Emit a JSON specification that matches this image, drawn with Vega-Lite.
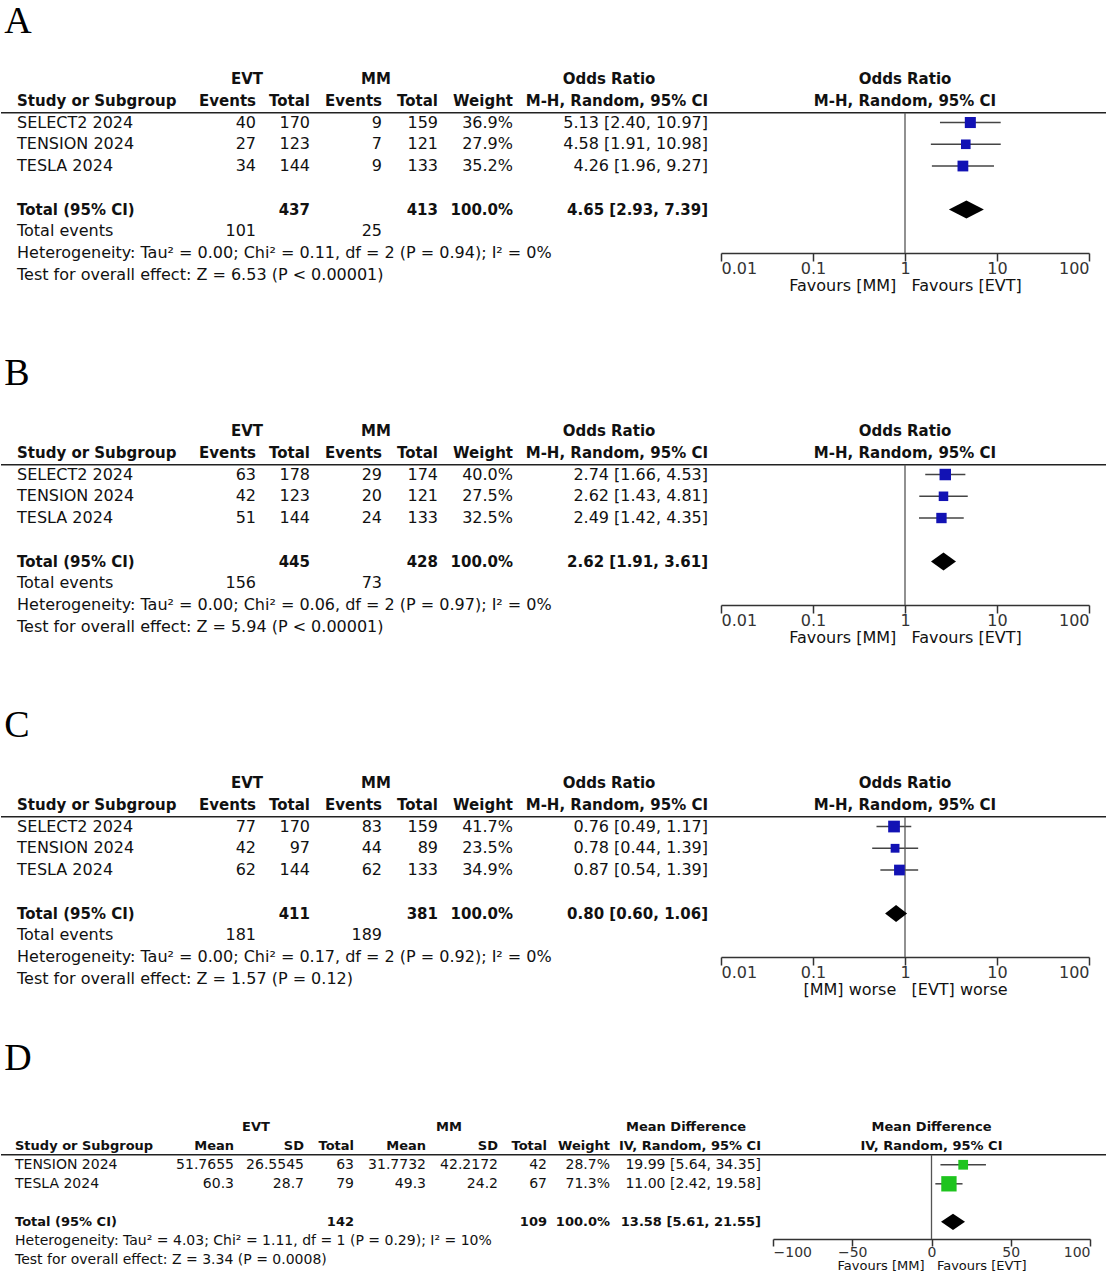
{
  "$schema": "https://vega.github.io/schema/vega-lite/v6.json",
  "padding": {"left": 0, "top": 3, "right": 0, "bottom": 0},
  "background": "white",
  "config": {
    "view": {"stroke": null},
    "text": {"font": "DejaVu Sans", "fontSize": 16, "color": "#111", "baseline": "middle"},
    "axis": {"grid": false, "domainColor": "#333", "tickColor": "#333", "labelColor": "#333", "titleColor": "#111", "labelFont": "DejaVu Sans", "titleFont": "DejaVu Sans", "titleFontWeight": "normal"}
  },
  "spacing": 42,
  "vconcat": [
    {
      "spacing": 62,
      "vconcat": [
        {
          "title": {"text": "A", "offset": 25, "dx": 4, "font": "Liberation Serif", "fontSize": 38, "fontWeight": "normal", "color": "#000", "anchor": "start"},
          "spacing": 0,
          "bounds": "flush",
          "hconcat": [
            {
              "width": 715, "height": 187,
              "data": {"values": [
                {"row": 0, "col": 7, "text": "EVT", "kind": "head"},
                {"row": 0, "col": 8, "text": "MM", "kind": "head"},
                {"row": 0, "col": 9, "text": "Odds Ratio", "kind": "head"},
                {"row": 1, "col": 0, "text": "Study or Subgroup", "kind": "head"},
                {"row": 1, "col": 1, "text": "Events", "kind": "head"},
                {"row": 1, "col": 2, "text": "Total", "kind": "head"},
                {"row": 1, "col": 3, "text": "Events", "kind": "head"},
                {"row": 1, "col": 4, "text": "Total", "kind": "head"},
                {"row": 1, "col": 5, "text": "Weight", "kind": "head"},
                {"row": 1, "col": 6, "text": "M-H, Random, 95% CI", "kind": "head"},
                {"row": 2, "col": 0, "text": "SELECT2 2024", "kind": "study"},
                {"row": 2, "col": 1, "text": "40", "kind": "study"},
                {"row": 2, "col": 2, "text": "170", "kind": "study"},
                {"row": 2, "col": 3, "text": "9", "kind": "study"},
                {"row": 2, "col": 4, "text": "159", "kind": "study"},
                {"row": 2, "col": 5, "text": "36.9%", "kind": "study"},
                {"row": 2, "col": 6, "text": "5.13 [2.40, 10.97]", "kind": "study"},
                {"row": 3, "col": 0, "text": "TENSION 2024", "kind": "study"},
                {"row": 3, "col": 1, "text": "27", "kind": "study"},
                {"row": 3, "col": 2, "text": "123", "kind": "study"},
                {"row": 3, "col": 3, "text": "7", "kind": "study"},
                {"row": 3, "col": 4, "text": "121", "kind": "study"},
                {"row": 3, "col": 5, "text": "27.9%", "kind": "study"},
                {"row": 3, "col": 6, "text": "4.58 [1.91, 10.98]", "kind": "study"},
                {"row": 4, "col": 0, "text": "TESLA 2024", "kind": "study"},
                {"row": 4, "col": 1, "text": "34", "kind": "study"},
                {"row": 4, "col": 2, "text": "144", "kind": "study"},
                {"row": 4, "col": 3, "text": "9", "kind": "study"},
                {"row": 4, "col": 4, "text": "133", "kind": "study"},
                {"row": 4, "col": 5, "text": "35.2%", "kind": "study"},
                {"row": 4, "col": 6, "text": "4.26 [1.96, 9.27]", "kind": "study"},
                {"row": 6, "col": 0, "text": "Total (95% CI)", "kind": "total"},
                {"row": 6, "col": 2, "text": "437", "kind": "total"},
                {"row": 6, "col": 4, "text": "413", "kind": "total"},
                {"row": 6, "col": 5, "text": "100.0%", "kind": "total"},
                {"row": 6, "col": 6, "text": "4.65 [2.93, 7.39]", "kind": "total"},
                {"row": 7, "col": 0, "text": "Total events", "kind": "note"},
                {"row": 7, "col": 1, "text": "101", "kind": "note"},
                {"row": 7, "col": 3, "text": "25", "kind": "note"},
                {"row": 8, "col": 0, "text": "Heterogeneity: Tau² = 0.00; Chi² = 0.11, df = 2 (P = 0.94); I² = 0%", "kind": "note"},
                {"row": 9, "col": 0, "text": "Test for overall effect: Z = 6.53 (P < 0.00001)", "kind": "note"}
              ]},
              "layer": [
                {"transform": [{"filter": "datum.col === 0 && datum.kind !== 'head' && datum.kind !== 'total'"}], "mark": {"type": "text", "align": "left"},
                 "encoding": {"x": {"field": "col", "type": "quantitative", "axis": null, "scale": {"domain": [0,1,2,3,4,5,6,7,8,9], "range": [16,255,309,381,437,512,707,246,375,608], "nice": false, "zero": false}},
                              "y": {"field": "row", "type": "quantitative", "axis": null, "scale": {"domain": [-0.6, 8], "reverse": true, "nice": false, "zero": false}},
                              "text": {"field": "text", "type": "nominal"}}},
                {"transform": [{"filter": "datum.col === 0 && (datum.kind === 'head' || datum.kind === 'total')"}], "mark": {"type": "text", "align": "left", "fontWeight": "bold", "fontSize": 15},
                 "encoding": {"x": {"field": "col", "type": "quantitative", "axis": null}, "y": {"field": "row", "type": "quantitative", "axis": null}, "text": {"field": "text", "type": "nominal"}}},
                {"transform": [{"filter": "datum.col >= 1 && datum.col <= 6 && datum.kind !== 'head' && datum.kind !== 'total'"}], "mark": {"type": "text", "align": "right"},
                 "encoding": {"x": {"field": "col", "type": "quantitative", "axis": null}, "y": {"field": "row", "type": "quantitative", "axis": null}, "text": {"field": "text", "type": "nominal"}}},
                {"transform": [{"filter": "datum.col >= 1 && datum.col <= 6 && (datum.kind === 'head' || datum.kind === 'total')"}], "mark": {"type": "text", "align": "right", "fontWeight": "bold", "fontSize": 15},
                 "encoding": {"x": {"field": "col", "type": "quantitative", "axis": null}, "y": {"field": "row", "type": "quantitative", "axis": null}, "text": {"field": "text", "type": "nominal"}}},
                {"transform": [{"filter": "datum.col >= 7"}], "mark": {"type": "text", "align": "center", "fontWeight": "bold", "fontSize": 15},
                 "encoding": {"x": {"field": "col", "type": "quantitative", "axis": null}, "y": {"field": "row", "type": "quantitative", "axis": null}, "text": {"field": "text", "type": "nominal"}}},
                {"transform": [{"filter": "datum.kind === 'head' && datum.col === 0"}], "mark": {"type": "rule", "color": "#222", "strokeWidth": 1.5, "yOffset": 12},
                 "encoding": {"y": {"field": "row", "type": "quantitative", "axis": null}}}
              ]
            },
            {
              "width": 390, "height": 187,
              "data": {"values": [
                {"row": 0, "kind": "head", "text": "Odds Ratio", "ref": 1},
                {"row": 1, "kind": "head", "text": "M-H, Random, 95% CI", "ref": 1},
                {"row": 2, "kind": "study", "est": 5.13, "lo": 2.40, "hi": 10.97, "weight": 36.9},
                {"row": 3, "kind": "study", "est": 4.58, "lo": 1.91, "hi": 10.98, "weight": 27.9},
                {"row": 4, "kind": "study", "est": 4.26, "lo": 1.96, "hi": 9.27, "weight": 35.2},
                {"row": 6, "kind": "total", "est": 4.65, "lo": 2.93, "hi": 7.39}
              ]},
              "layer": [
                {"transform": [{"filter": "datum.kind === 'study'"}], "mark": {"type": "rule", "color": "#444", "strokeWidth": 1.5},
                 "encoding": {
                   "x": {"field": "lo", "type": "quantitative", "scale": {"type": "log", "domain": [0.01, 100], "range": [5, 373], "nice": false},
                         "axis": {"orient": "bottom", "values": [0.01, 0.1, 1, 10, 100], "format": "~g", "labelFlush": true, "labelPadding": -1, "tickSize": 8, "labelFontSize": 16, "labelOverlap": false, "domainWidth": 1.5, "tickWidth": 1.5, "title": "Favours [MM]\u00a0\u00a0\u00a0Favours [EVT]", "titleFontSize": 16, "titlePadding": 1}},
                   "x2": {"field": "hi"},
                   "y": {"field": "row", "type": "quantitative", "axis": null, "scale": {"domain": [-0.6, 8], "reverse": true, "nice": false, "zero": false}}}},
                {"transform": [{"filter": "datum.kind === 'head' && datum.row === 1"}], "mark": {"type": "rule", "color": "#222", "strokeWidth": 1.5, "yOffset": 12},
                 "encoding": {"y": {"field": "row", "type": "quantitative", "axis": null}}},
                {"transform": [{"filter": "datum.kind === 'head' && datum.row === 1"}], "mark": {"type": "rule", "color": "#555", "strokeWidth": 1.3, "yOffset": 12},
                 "encoding": {"x": {"field": "ref", "type": "quantitative"}, "y": {"field": "row", "type": "quantitative", "axis": null}, "y2": {"value": "height"}}},
                {"transform": [{"filter": "datum.kind === 'study'"}], "mark": {"type": "point", "shape": "square", "filled": true, "opacity": 1, "color": "#1212b4"},
                 "encoding": {
                   "x": {"field": "est", "type": "quantitative"},
                   "y": {"field": "row", "type": "quantitative", "axis": null},
                   "size": {"field": "weight", "type": "quantitative", "scale": {"domain": [0, 100], "range": [0, 330]}, "legend": null}}},
                {"transform": [{"filter": "datum.kind === 'total'"}], "mark": {"type": "point", "shape": "M-1,0L0,-0.51L1,0L0,0.51Z", "filled": true, "opacity": 1, "color": "#000", "size": 1225},
                 "encoding": {"x": {"field": "est", "type": "quantitative"}, "y": {"field": "row", "type": "quantitative", "axis": null}}},
                {"transform": [{"filter": "datum.kind === 'head'"}], "mark": {"type": "text", "align": "center", "fontWeight": "bold", "fontSize": 15},
                 "encoding": {"x": {"field": "ref", "type": "quantitative"}, "y": {"field": "row", "type": "quantitative", "axis": null}, "text": {"field": "text", "type": "nominal"}}}
              ]
            }
          ]
        },
        {
          "title": {"text": "B", "offset": 25, "dx": 4, "font": "Liberation Serif", "fontSize": 38, "fontWeight": "normal", "color": "#000", "anchor": "start"},
          "spacing": 0,
          "bounds": "flush",
          "hconcat": [
            {
              "width": 715, "height": 187,
              "data": {"values": [
                {"row": 0, "col": 7, "text": "EVT", "kind": "head"},
                {"row": 0, "col": 8, "text": "MM", "kind": "head"},
                {"row": 0, "col": 9, "text": "Odds Ratio", "kind": "head"},
                {"row": 1, "col": 0, "text": "Study or Subgroup", "kind": "head"},
                {"row": 1, "col": 1, "text": "Events", "kind": "head"},
                {"row": 1, "col": 2, "text": "Total", "kind": "head"},
                {"row": 1, "col": 3, "text": "Events", "kind": "head"},
                {"row": 1, "col": 4, "text": "Total", "kind": "head"},
                {"row": 1, "col": 5, "text": "Weight", "kind": "head"},
                {"row": 1, "col": 6, "text": "M-H, Random, 95% CI", "kind": "head"},
                {"row": 2, "col": 0, "text": "SELECT2 2024", "kind": "study"},
                {"row": 2, "col": 1, "text": "63", "kind": "study"},
                {"row": 2, "col": 2, "text": "178", "kind": "study"},
                {"row": 2, "col": 3, "text": "29", "kind": "study"},
                {"row": 2, "col": 4, "text": "174", "kind": "study"},
                {"row": 2, "col": 5, "text": "40.0%", "kind": "study"},
                {"row": 2, "col": 6, "text": "2.74 [1.66, 4.53]", "kind": "study"},
                {"row": 3, "col": 0, "text": "TENSION 2024", "kind": "study"},
                {"row": 3, "col": 1, "text": "42", "kind": "study"},
                {"row": 3, "col": 2, "text": "123", "kind": "study"},
                {"row": 3, "col": 3, "text": "20", "kind": "study"},
                {"row": 3, "col": 4, "text": "121", "kind": "study"},
                {"row": 3, "col": 5, "text": "27.5%", "kind": "study"},
                {"row": 3, "col": 6, "text": "2.62 [1.43, 4.81]", "kind": "study"},
                {"row": 4, "col": 0, "text": "TESLA 2024", "kind": "study"},
                {"row": 4, "col": 1, "text": "51", "kind": "study"},
                {"row": 4, "col": 2, "text": "144", "kind": "study"},
                {"row": 4, "col": 3, "text": "24", "kind": "study"},
                {"row": 4, "col": 4, "text": "133", "kind": "study"},
                {"row": 4, "col": 5, "text": "32.5%", "kind": "study"},
                {"row": 4, "col": 6, "text": "2.49 [1.42, 4.35]", "kind": "study"},
                {"row": 6, "col": 0, "text": "Total (95% CI)", "kind": "total"},
                {"row": 6, "col": 2, "text": "445", "kind": "total"},
                {"row": 6, "col": 4, "text": "428", "kind": "total"},
                {"row": 6, "col": 5, "text": "100.0%", "kind": "total"},
                {"row": 6, "col": 6, "text": "2.62 [1.91, 3.61]", "kind": "total"},
                {"row": 7, "col": 0, "text": "Total events", "kind": "note"},
                {"row": 7, "col": 1, "text": "156", "kind": "note"},
                {"row": 7, "col": 3, "text": "73", "kind": "note"},
                {"row": 8, "col": 0, "text": "Heterogeneity: Tau² = 0.00; Chi² = 0.06, df = 2 (P = 0.97); I² = 0%", "kind": "note"},
                {"row": 9, "col": 0, "text": "Test for overall effect: Z = 5.94 (P < 0.00001)", "kind": "note"}
              ]},
              "layer": [
                {"transform": [{"filter": "datum.col === 0 && datum.kind !== 'head' && datum.kind !== 'total'"}], "mark": {"type": "text", "align": "left"},
                 "encoding": {"x": {"field": "col", "type": "quantitative", "axis": null, "scale": {"domain": [0,1,2,3,4,5,6,7,8,9], "range": [16,255,309,381,437,512,707,246,375,608], "nice": false, "zero": false}},
                              "y": {"field": "row", "type": "quantitative", "axis": null, "scale": {"domain": [-0.6, 8], "reverse": true, "nice": false, "zero": false}},
                              "text": {"field": "text", "type": "nominal"}}},
                {"transform": [{"filter": "datum.col === 0 && (datum.kind === 'head' || datum.kind === 'total')"}], "mark": {"type": "text", "align": "left", "fontWeight": "bold", "fontSize": 15},
                 "encoding": {"x": {"field": "col", "type": "quantitative", "axis": null}, "y": {"field": "row", "type": "quantitative", "axis": null}, "text": {"field": "text", "type": "nominal"}}},
                {"transform": [{"filter": "datum.col >= 1 && datum.col <= 6 && datum.kind !== 'head' && datum.kind !== 'total'"}], "mark": {"type": "text", "align": "right"},
                 "encoding": {"x": {"field": "col", "type": "quantitative", "axis": null}, "y": {"field": "row", "type": "quantitative", "axis": null}, "text": {"field": "text", "type": "nominal"}}},
                {"transform": [{"filter": "datum.col >= 1 && datum.col <= 6 && (datum.kind === 'head' || datum.kind === 'total')"}], "mark": {"type": "text", "align": "right", "fontWeight": "bold", "fontSize": 15},
                 "encoding": {"x": {"field": "col", "type": "quantitative", "axis": null}, "y": {"field": "row", "type": "quantitative", "axis": null}, "text": {"field": "text", "type": "nominal"}}},
                {"transform": [{"filter": "datum.col >= 7"}], "mark": {"type": "text", "align": "center", "fontWeight": "bold", "fontSize": 15},
                 "encoding": {"x": {"field": "col", "type": "quantitative", "axis": null}, "y": {"field": "row", "type": "quantitative", "axis": null}, "text": {"field": "text", "type": "nominal"}}},
                {"transform": [{"filter": "datum.kind === 'head' && datum.col === 0"}], "mark": {"type": "rule", "color": "#222", "strokeWidth": 1.5, "yOffset": 12},
                 "encoding": {"y": {"field": "row", "type": "quantitative", "axis": null}}}
              ]
            },
            {
              "width": 390, "height": 187,
              "data": {"values": [
                {"row": 0, "kind": "head", "text": "Odds Ratio", "ref": 1},
                {"row": 1, "kind": "head", "text": "M-H, Random, 95% CI", "ref": 1},
                {"row": 2, "kind": "study", "est": 2.74, "lo": 1.66, "hi": 4.53, "weight": 40.0},
                {"row": 3, "kind": "study", "est": 2.62, "lo": 1.43, "hi": 4.81, "weight": 27.5},
                {"row": 4, "kind": "study", "est": 2.49, "lo": 1.42, "hi": 4.35, "weight": 32.5},
                {"row": 6, "kind": "total", "est": 2.62, "lo": 1.91, "hi": 3.61}
              ]},
              "layer": [
                {"transform": [{"filter": "datum.kind === 'study'"}], "mark": {"type": "rule", "color": "#444", "strokeWidth": 1.5},
                 "encoding": {
                   "x": {"field": "lo", "type": "quantitative", "scale": {"type": "log", "domain": [0.01, 100], "range": [5, 373], "nice": false},
                         "axis": {"orient": "bottom", "values": [0.01, 0.1, 1, 10, 100], "format": "~g", "labelFlush": true, "labelPadding": -1, "tickSize": 8, "labelFontSize": 16, "labelOverlap": false, "domainWidth": 1.5, "tickWidth": 1.5, "title": "Favours [MM]\u00a0\u00a0\u00a0Favours [EVT]", "titleFontSize": 16, "titlePadding": 1}},
                   "x2": {"field": "hi"},
                   "y": {"field": "row", "type": "quantitative", "axis": null, "scale": {"domain": [-0.6, 8], "reverse": true, "nice": false, "zero": false}}}},
                {"transform": [{"filter": "datum.kind === 'head' && datum.row === 1"}], "mark": {"type": "rule", "color": "#222", "strokeWidth": 1.5, "yOffset": 12},
                 "encoding": {"y": {"field": "row", "type": "quantitative", "axis": null}}},
                {"transform": [{"filter": "datum.kind === 'head' && datum.row === 1"}], "mark": {"type": "rule", "color": "#555", "strokeWidth": 1.3, "yOffset": 12},
                 "encoding": {"x": {"field": "ref", "type": "quantitative"}, "y": {"field": "row", "type": "quantitative", "axis": null}, "y2": {"value": "height"}}},
                {"transform": [{"filter": "datum.kind === 'study'"}], "mark": {"type": "point", "shape": "square", "filled": true, "opacity": 1, "color": "#1212b4"},
                 "encoding": {
                   "x": {"field": "est", "type": "quantitative"},
                   "y": {"field": "row", "type": "quantitative", "axis": null},
                   "size": {"field": "weight", "type": "quantitative", "scale": {"domain": [0, 100], "range": [0, 330]}, "legend": null}}},
                {"transform": [{"filter": "datum.kind === 'total'"}], "mark": {"type": "point", "shape": "M-1,0L0,-0.72L1,0L0,0.72Z", "filled": true, "opacity": 1, "color": "#000", "size": 625},
                 "encoding": {"x": {"field": "est", "type": "quantitative"}, "y": {"field": "row", "type": "quantitative", "axis": null}}},
                {"transform": [{"filter": "datum.kind === 'head'"}], "mark": {"type": "text", "align": "center", "fontWeight": "bold", "fontSize": 15},
                 "encoding": {"x": {"field": "ref", "type": "quantitative"}, "y": {"field": "row", "type": "quantitative", "axis": null}, "text": {"field": "text", "type": "nominal"}}}
              ]
            }
          ]
        },
        {
          "title": {"text": "C", "offset": 25, "dx": 4, "font": "Liberation Serif", "fontSize": 38, "fontWeight": "normal", "color": "#000", "anchor": "start"},
          "spacing": 0,
          "bounds": "flush",
          "hconcat": [
            {
              "width": 715, "height": 187,
              "data": {"values": [
                {"row": 0, "col": 7, "text": "EVT", "kind": "head"},
                {"row": 0, "col": 8, "text": "MM", "kind": "head"},
                {"row": 0, "col": 9, "text": "Odds Ratio", "kind": "head"},
                {"row": 1, "col": 0, "text": "Study or Subgroup", "kind": "head"},
                {"row": 1, "col": 1, "text": "Events", "kind": "head"},
                {"row": 1, "col": 2, "text": "Total", "kind": "head"},
                {"row": 1, "col": 3, "text": "Events", "kind": "head"},
                {"row": 1, "col": 4, "text": "Total", "kind": "head"},
                {"row": 1, "col": 5, "text": "Weight", "kind": "head"},
                {"row": 1, "col": 6, "text": "M-H, Random, 95% CI", "kind": "head"},
                {"row": 2, "col": 0, "text": "SELECT2 2024", "kind": "study"},
                {"row": 2, "col": 1, "text": "77", "kind": "study"},
                {"row": 2, "col": 2, "text": "170", "kind": "study"},
                {"row": 2, "col": 3, "text": "83", "kind": "study"},
                {"row": 2, "col": 4, "text": "159", "kind": "study"},
                {"row": 2, "col": 5, "text": "41.7%", "kind": "study"},
                {"row": 2, "col": 6, "text": "0.76 [0.49, 1.17]", "kind": "study"},
                {"row": 3, "col": 0, "text": "TENSION 2024", "kind": "study"},
                {"row": 3, "col": 1, "text": "42", "kind": "study"},
                {"row": 3, "col": 2, "text": "97", "kind": "study"},
                {"row": 3, "col": 3, "text": "44", "kind": "study"},
                {"row": 3, "col": 4, "text": "89", "kind": "study"},
                {"row": 3, "col": 5, "text": "23.5%", "kind": "study"},
                {"row": 3, "col": 6, "text": "0.78 [0.44, 1.39]", "kind": "study"},
                {"row": 4, "col": 0, "text": "TESLA 2024", "kind": "study"},
                {"row": 4, "col": 1, "text": "62", "kind": "study"},
                {"row": 4, "col": 2, "text": "144", "kind": "study"},
                {"row": 4, "col": 3, "text": "62", "kind": "study"},
                {"row": 4, "col": 4, "text": "133", "kind": "study"},
                {"row": 4, "col": 5, "text": "34.9%", "kind": "study"},
                {"row": 4, "col": 6, "text": "0.87 [0.54, 1.39]", "kind": "study"},
                {"row": 6, "col": 0, "text": "Total (95% CI)", "kind": "total"},
                {"row": 6, "col": 2, "text": "411", "kind": "total"},
                {"row": 6, "col": 4, "text": "381", "kind": "total"},
                {"row": 6, "col": 5, "text": "100.0%", "kind": "total"},
                {"row": 6, "col": 6, "text": "0.80 [0.60, 1.06]", "kind": "total"},
                {"row": 7, "col": 0, "text": "Total events", "kind": "note"},
                {"row": 7, "col": 1, "text": "181", "kind": "note"},
                {"row": 7, "col": 3, "text": "189", "kind": "note"},
                {"row": 8, "col": 0, "text": "Heterogeneity: Tau² = 0.00; Chi² = 0.17, df = 2 (P = 0.92); I² = 0%", "kind": "note"},
                {"row": 9, "col": 0, "text": "Test for overall effect: Z = 1.57 (P = 0.12)", "kind": "note"}
              ]},
              "layer": [
                {"transform": [{"filter": "datum.col === 0 && datum.kind !== 'head' && datum.kind !== 'total'"}], "mark": {"type": "text", "align": "left"},
                 "encoding": {"x": {"field": "col", "type": "quantitative", "axis": null, "scale": {"domain": [0,1,2,3,4,5,6,7,8,9], "range": [16,255,309,381,437,512,707,246,375,608], "nice": false, "zero": false}},
                              "y": {"field": "row", "type": "quantitative", "axis": null, "scale": {"domain": [-0.6, 8], "reverse": true, "nice": false, "zero": false}},
                              "text": {"field": "text", "type": "nominal"}}},
                {"transform": [{"filter": "datum.col === 0 && (datum.kind === 'head' || datum.kind === 'total')"}], "mark": {"type": "text", "align": "left", "fontWeight": "bold", "fontSize": 15},
                 "encoding": {"x": {"field": "col", "type": "quantitative", "axis": null}, "y": {"field": "row", "type": "quantitative", "axis": null}, "text": {"field": "text", "type": "nominal"}}},
                {"transform": [{"filter": "datum.col >= 1 && datum.col <= 6 && datum.kind !== 'head' && datum.kind !== 'total'"}], "mark": {"type": "text", "align": "right"},
                 "encoding": {"x": {"field": "col", "type": "quantitative", "axis": null}, "y": {"field": "row", "type": "quantitative", "axis": null}, "text": {"field": "text", "type": "nominal"}}},
                {"transform": [{"filter": "datum.col >= 1 && datum.col <= 6 && (datum.kind === 'head' || datum.kind === 'total')"}], "mark": {"type": "text", "align": "right", "fontWeight": "bold", "fontSize": 15},
                 "encoding": {"x": {"field": "col", "type": "quantitative", "axis": null}, "y": {"field": "row", "type": "quantitative", "axis": null}, "text": {"field": "text", "type": "nominal"}}},
                {"transform": [{"filter": "datum.col >= 7"}], "mark": {"type": "text", "align": "center", "fontWeight": "bold", "fontSize": 15},
                 "encoding": {"x": {"field": "col", "type": "quantitative", "axis": null}, "y": {"field": "row", "type": "quantitative", "axis": null}, "text": {"field": "text", "type": "nominal"}}},
                {"transform": [{"filter": "datum.kind === 'head' && datum.col === 0"}], "mark": {"type": "rule", "color": "#222", "strokeWidth": 1.5, "yOffset": 12},
                 "encoding": {"y": {"field": "row", "type": "quantitative", "axis": null}}}
              ]
            },
            {
              "width": 390, "height": 187,
              "data": {"values": [
                {"row": 0, "kind": "head", "text": "Odds Ratio", "ref": 1},
                {"row": 1, "kind": "head", "text": "M-H, Random, 95% CI", "ref": 1},
                {"row": 2, "kind": "study", "est": 0.76, "lo": 0.49, "hi": 1.17, "weight": 41.7},
                {"row": 3, "kind": "study", "est": 0.78, "lo": 0.44, "hi": 1.39, "weight": 23.5},
                {"row": 4, "kind": "study", "est": 0.87, "lo": 0.54, "hi": 1.39, "weight": 34.9},
                {"row": 6, "kind": "total", "est": 0.80, "lo": 0.60, "hi": 1.06}
              ]},
              "layer": [
                {"transform": [{"filter": "datum.kind === 'study'"}], "mark": {"type": "rule", "color": "#444", "strokeWidth": 1.5},
                 "encoding": {
                   "x": {"field": "lo", "type": "quantitative", "scale": {"type": "log", "domain": [0.01, 100], "range": [5, 373], "nice": false},
                         "axis": {"orient": "bottom", "values": [0.01, 0.1, 1, 10, 100], "format": "~g", "labelFlush": true, "labelPadding": -1, "tickSize": 8, "labelFontSize": 16, "labelOverlap": false, "domainWidth": 1.5, "tickWidth": 1.5, "title": "[MM] worse\u00a0\u00a0\u00a0[EVT] worse", "titleFontSize": 16, "titlePadding": 1}},
                   "x2": {"field": "hi"},
                   "y": {"field": "row", "type": "quantitative", "axis": null, "scale": {"domain": [-0.6, 8], "reverse": true, "nice": false, "zero": false}}}},
                {"transform": [{"filter": "datum.kind === 'head' && datum.row === 1"}], "mark": {"type": "rule", "color": "#222", "strokeWidth": 1.5, "yOffset": 12},
                 "encoding": {"y": {"field": "row", "type": "quantitative", "axis": null}}},
                {"transform": [{"filter": "datum.kind === 'head' && datum.row === 1"}], "mark": {"type": "rule", "color": "#555", "strokeWidth": 1.3, "yOffset": 12},
                 "encoding": {"x": {"field": "ref", "type": "quantitative"}, "y": {"field": "row", "type": "quantitative", "axis": null}, "y2": {"value": "height"}}},
                {"transform": [{"filter": "datum.kind === 'study'"}], "mark": {"type": "point", "shape": "square", "filled": true, "opacity": 1, "color": "#1212b4"},
                 "encoding": {
                   "x": {"field": "est", "type": "quantitative"},
                   "y": {"field": "row", "type": "quantitative", "axis": null},
                   "size": {"field": "weight", "type": "quantitative", "scale": {"domain": [0, 100], "range": [0, 330]}, "legend": null}}},
                {"transform": [{"filter": "datum.kind === 'total'"}], "mark": {"type": "point", "shape": "M-1,0L0,-0.77L1,0L0,0.77Z", "filled": true, "opacity": 1, "color": "#000", "size": 484},
                 "encoding": {"x": {"field": "est", "type": "quantitative"}, "y": {"field": "row", "type": "quantitative", "axis": null}}},
                {"transform": [{"filter": "datum.kind === 'head'"}], "mark": {"type": "text", "align": "center", "fontWeight": "bold", "fontSize": 15},
                 "encoding": {"x": {"field": "ref", "type": "quantitative"}, "y": {"field": "row", "type": "quantitative", "axis": null}, "text": {"field": "text", "type": "nominal"}}}
              ]
            }
          ]
        }
      ]
    },
    {
      "title": {"text": "D", "offset": 43, "dx": 4, "font": "Liberation Serif", "fontSize": 38, "fontWeight": "normal", "color": "#000", "anchor": "start"},
      "spacing": 0,
      "bounds": "flush",
      "hconcat": [
        {
          "width": 765, "height": 118,
          "data": {"values": [
            {"row": 0, "col": 9, "text": "EVT", "kind": "head"},
            {"row": 0, "col": 10, "text": "MM", "kind": "head"},
            {"row": 0, "col": 11, "text": "Mean Difference", "kind": "head"},
            {"row": 1, "col": 0, "text": "Study or Subgroup", "kind": "head"},
            {"row": 1, "col": 1, "text": "Mean", "kind": "head"},
            {"row": 1, "col": 2, "text": "SD", "kind": "head"},
            {"row": 1, "col": 3, "text": "Total", "kind": "head"},
            {"row": 1, "col": 4, "text": "Mean", "kind": "head"},
            {"row": 1, "col": 5, "text": "SD", "kind": "head"},
            {"row": 1, "col": 6, "text": "Total", "kind": "head"},
            {"row": 1, "col": 7, "text": "Weight", "kind": "head"},
            {"row": 1, "col": 8, "text": "IV, Random, 95% CI", "kind": "head"},
            {"row": 2, "col": 0, "text": "TENSION 2024", "kind": "study"},
            {"row": 2, "col": 1, "text": "51.7655", "kind": "study"},
            {"row": 2, "col": 2, "text": "26.5545", "kind": "study"},
            {"row": 2, "col": 3, "text": "63", "kind": "study"},
            {"row": 2, "col": 4, "text": "31.7732", "kind": "study"},
            {"row": 2, "col": 5, "text": "42.2172", "kind": "study"},
            {"row": 2, "col": 6, "text": "42", "kind": "study"},
            {"row": 2, "col": 7, "text": "28.7%", "kind": "study"},
            {"row": 2, "col": 8, "text": "19.99 [5.64, 34.35]", "kind": "study"},
            {"row": 3, "col": 0, "text": "TESLA 2024", "kind": "study"},
            {"row": 3, "col": 1, "text": "60.3", "kind": "study"},
            {"row": 3, "col": 2, "text": "28.7", "kind": "study"},
            {"row": 3, "col": 3, "text": "79", "kind": "study"},
            {"row": 3, "col": 4, "text": "49.3", "kind": "study"},
            {"row": 3, "col": 5, "text": "24.2", "kind": "study"},
            {"row": 3, "col": 6, "text": "67", "kind": "study"},
            {"row": 3, "col": 7, "text": "71.3%", "kind": "study"},
            {"row": 3, "col": 8, "text": "11.00 [2.42, 19.58]", "kind": "study"},
            {"row": 5, "col": 0, "text": "Total (95% CI)", "kind": "total"},
            {"row": 5, "col": 3, "text": "142", "kind": "total"},
            {"row": 5, "col": 6, "text": "109", "kind": "total"},
            {"row": 5, "col": 7, "text": "100.0%", "kind": "total"},
            {"row": 5, "col": 8, "text": "13.58 [5.61, 21.55]", "kind": "total"},
            {"row": 6, "col": 0, "text": "Heterogeneity: Tau² = 4.03; Chi² = 1.11, df = 1 (P = 0.29); I² = 10%", "kind": "note"},
            {"row": 7, "col": 0, "text": "Test for overall effect: Z = 3.34 (P = 0.0008)", "kind": "note"}
          ]},
          "layer": [
            {"transform": [{"filter": "datum.col === 0 && datum.kind !== 'head' && datum.kind !== 'total'"}], "mark": {"type": "text", "align": "left", "fontSize": 14},
             "encoding": {"x": {"field": "col", "type": "quantitative", "axis": null, "scale": {"domain": [0,1,2,3,4,5,6,7,8,9,10,11], "range": [14,233,303,353,425,497,546,609,760,255,448,685], "nice": false, "zero": false}},
                          "y": {"field": "row", "type": "quantitative", "axis": null, "scale": {"domain": [-0.3, 5.9], "reverse": true, "nice": false, "zero": false}},
                          "text": {"field": "text", "type": "nominal"}}},
            {"transform": [{"filter": "datum.col === 0 && (datum.kind === 'head' || datum.kind === 'total')"}], "mark": {"type": "text", "align": "left", "fontWeight": "bold", "fontSize": 13},
             "encoding": {"x": {"field": "col", "type": "quantitative", "axis": null}, "y": {"field": "row", "type": "quantitative", "axis": null}, "text": {"field": "text", "type": "nominal"}}},
            {"transform": [{"filter": "datum.col >= 1 && datum.col <= 8 && datum.kind !== 'head' && datum.kind !== 'total'"}], "mark": {"type": "text", "align": "right", "fontSize": 14},
             "encoding": {"x": {"field": "col", "type": "quantitative", "axis": null}, "y": {"field": "row", "type": "quantitative", "axis": null}, "text": {"field": "text", "type": "nominal"}}},
            {"transform": [{"filter": "datum.col >= 1 && datum.col <= 8 && (datum.kind === 'head' || datum.kind === 'total')"}], "mark": {"type": "text", "align": "right", "fontWeight": "bold", "fontSize": 13},
             "encoding": {"x": {"field": "col", "type": "quantitative", "axis": null}, "y": {"field": "row", "type": "quantitative", "axis": null}, "text": {"field": "text", "type": "nominal"}}},
            {"transform": [{"filter": "datum.col >= 9"}], "mark": {"type": "text", "align": "center", "fontWeight": "bold", "fontSize": 13},
             "encoding": {"x": {"field": "col", "type": "quantitative", "axis": null}, "y": {"field": "row", "type": "quantitative", "axis": null}, "text": {"field": "text", "type": "nominal"}}},
            {"transform": [{"filter": "datum.kind === 'head' && datum.col === 0"}], "mark": {"type": "rule", "color": "#222", "strokeWidth": 1.5, "yOffset": 9},
             "encoding": {"y": {"field": "row", "type": "quantitative", "axis": null}}}
          ]
        },
        {
          "width": 340, "height": 118,
          "data": {"values": [
            {"row": 0, "kind": "head", "text": "Mean Difference", "ref": 0},
            {"row": 1, "kind": "head", "text": "IV, Random, 95% CI", "ref": 0},
            {"row": 2, "kind": "study", "est": 19.99, "lo": 5.64, "hi": 34.35, "weight": 28.7},
            {"row": 3, "kind": "study", "est": 11.00, "lo": 2.42, "hi": 19.58, "weight": 71.3},
            {"row": 5, "kind": "total", "est": 13.58, "lo": 5.61, "hi": 21.55}
          ]},
          "layer": [
            {"transform": [{"filter": "datum.kind === 'study'"}], "mark": {"type": "rule", "color": "#444", "strokeWidth": 1.5},
             "encoding": {
               "x": {"field": "lo", "type": "quantitative", "scale": {"domain": [-100, 100], "range": [7, 324], "nice": false, "zero": false},
                     "axis": {"orient": "bottom", "values": [-100, -50, 0, 50, 100], "format": "d", "labelFlush": true, "labelPadding": -1, "tickSize": 7, "labelFontSize": 14, "labelOverlap": false, "domainWidth": 1.5, "tickWidth": 1.5, "title": "Favours [MM]\u00a0\u00a0\u00a0Favours [EVT]", "titleFontSize": 13, "titlePadding": 0}},
               "x2": {"field": "hi"},
               "y": {"field": "row", "type": "quantitative", "axis": null, "scale": {"domain": [-0.3, 5.9], "reverse": true, "nice": false, "zero": false}}}},
            {"transform": [{"filter": "datum.kind === 'head' && datum.row === 1"}], "mark": {"type": "rule", "color": "#222", "strokeWidth": 1.5, "yOffset": 9},
             "encoding": {"y": {"field": "row", "type": "quantitative", "axis": null}}},
            {"transform": [{"filter": "datum.kind === 'head' && datum.row === 1"}], "mark": {"type": "rule", "color": "#555", "strokeWidth": 1.3, "yOffset": 9},
             "encoding": {"x": {"field": "ref", "type": "quantitative"}, "y": {"field": "row", "type": "quantitative", "axis": null}, "y2": {"value": "height"}}},
            {"transform": [{"filter": "datum.kind === 'study'"}], "mark": {"type": "point", "shape": "square", "filled": true, "opacity": 1, "color": "#1ec41e"},
             "encoding": {
               "x": {"field": "est", "type": "quantitative"},
               "y": {"field": "row", "type": "quantitative", "axis": null},
               "size": {"field": "weight", "type": "quantitative", "scale": {"domain": [0, 100], "range": [0, 340]}, "legend": null}}},
            {"transform": [{"filter": "datum.kind === 'total'"}], "mark": {"type": "point", "shape": "M-1,0L0,-0.67L1,0L0,0.67Z", "filled": true, "opacity": 1, "color": "#000", "size": 576},
             "encoding": {"x": {"field": "est", "type": "quantitative"}, "y": {"field": "row", "type": "quantitative", "axis": null}}},
            {"transform": [{"filter": "datum.kind === 'head'"}], "mark": {"type": "text", "align": "center", "fontWeight": "bold", "fontSize": 13},
             "encoding": {"x": {"field": "ref", "type": "quantitative"}, "y": {"field": "row", "type": "quantitative", "axis": null}, "text": {"field": "text", "type": "nominal"}}}
          ]
        }
      ]
    }
  ]
}
